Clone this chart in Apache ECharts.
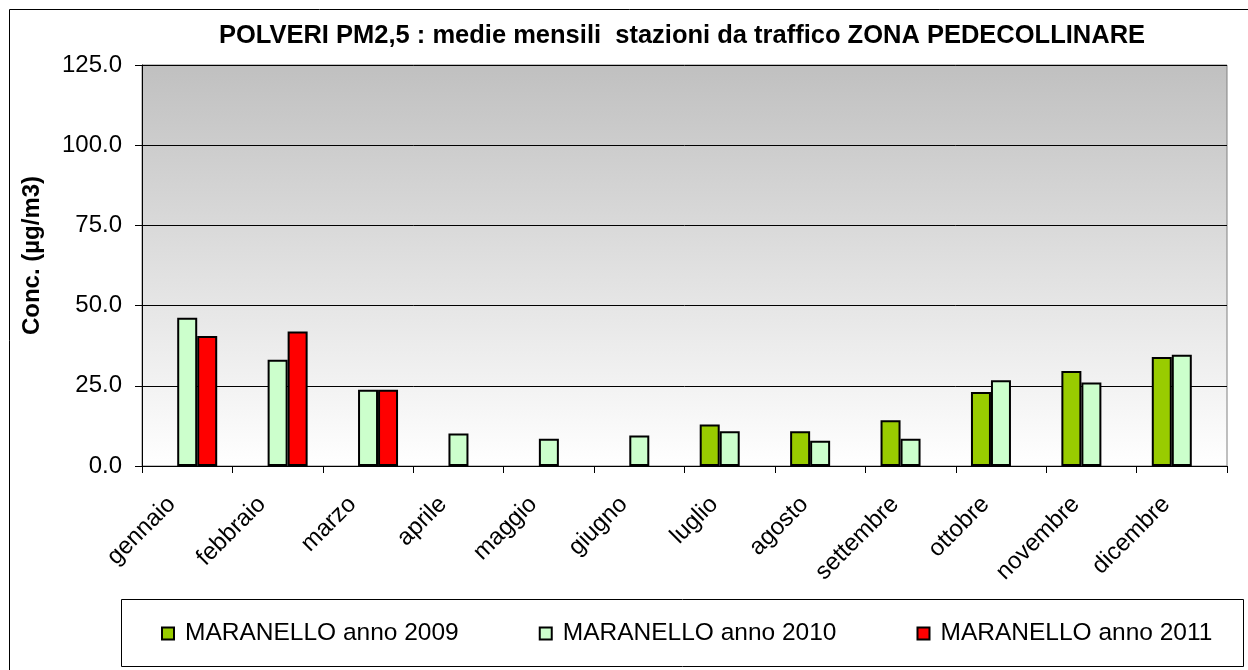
<!DOCTYPE html>
<html>
<head>
<meta charset="utf-8">
<script src="https://cdn.jsdelivr.net/npm/echarts@6/dist/echarts.min.js"></script>
<style>
html,body{margin:0;padding:0;background:#fff;}
#chart{width:1248px;height:670px;}
</style>
</head>
<body>
<div id="chart"></div>
<script>
var categories = ['gennaio','febbraio','marzo','aprile','maggio','giugno','luglio','agosto','settembre','ottobre','novembre','dicembre'];
var seriesNames = ['MARANELLO anno 2009','MARANELLO anno 2010','MARANELLO anno 2011'];
var values2009 = [null, null, null, null, null, null, 12.9, 10.8, 14.3, 23.1, 29.6, 34.0];
var values2010 = [46.2, 33.1, 23.8, 10.1, 8.5, 9.5, 10.8, 7.9, 8.5, 26.7, 26.0, 34.7];
var values2011 = [40.5, 41.9, 23.8, null, null, null, null, null, null, null, null, null];
var yTicks = {min: 0, max: 125, interval: 25};
var titleText = 'POLVERI PM2,5 : medie mensili  stazioni da traffico ZONA PEDECOLLINARE';
var yAxisName = 'Conc. (µg/m3)';

var colors = ['#99CC00', '#CCFFCC', '#FF0000'];
var allValues = [values2009, values2010, values2011];

var chart = echarts.init(document.getElementById('chart'), null, {renderer: 'canvas'});
var series = allValues.map(function (vals, i) {
  return {
    name: seriesNames[i],
    type: 'bar',
    data: vals,
    barWidth: 20,
    barGap: '0%',
    itemStyle: {color: colors[i], borderColor: '#000', borderWidth: 2},
    emphasis: {disabled: true},
    animation: false
  };
});

chart.setOption({
  animation: false,
  title: {
    text: titleText,
    left: 677,
    top: 18,
    textAlign: 'center',
    textStyle: {fontFamily: 'Liberation Sans, Arial', fontWeight: 'bold', fontSize: 25.5, color: '#000'}
  },
  legend: {
    data: seriesNames,
    left: 156,
    top: 616,
    itemWidth: 12,
    itemHeight: 12,
    itemGap: 80,
    icon: 'rect',
    textStyle: {fontFamily: 'Liberation Sans, Arial', fontSize: 24.5, color: '#000', padding: [0,0,0,6]},
    selectedMode: false
  },
  grid: {
    left: 142, right: 21, top: 65, bottom: 204,
    show: true,
    borderColor: '#808080',
    borderWidth: 1,
    backgroundColor: {
      type: 'linear', x: 0, y: 0, x2: 0, y2: 1,
      colorStops: [{offset: 0, color: '#C0C0C0'}, {offset: 1, color: '#FFFFFF'}]
    }
  },
  xAxis: {
    type: 'category',
    data: categories,
    axisLine: {lineStyle: {color: '#000', width: 1}},
    axisTick: {show: true, length: 7, lineStyle: {color: '#000'}},
    axisLabel: {rotate: 45, margin: 19, padding: [0, 22, 0, 0], fontFamily: 'Liberation Sans, Arial', fontSize: 24, color: '#000'}
  },
  yAxis: {
    type: 'value',
    min: yTicks.min, max: yTicks.max, interval: yTicks.interval,
    name: yAxisName,
    nameLocation: 'middle',
    nameGap: 98,
    nameTextStyle: {fontFamily: 'Liberation Sans, Arial', fontWeight: 'bold', fontSize: 24, color: '#000', padding: [0, 0, 0, 20]},
    axisLine: {show: true, lineStyle: {color: '#000', width: 1}},
    axisTick: {show: true, length: 7, inside: false, lineStyle: {color: '#000'}},
    axisLabel: {margin: 20, fontFamily: 'Liberation Sans, Arial', fontSize: 24, color: '#000',
      formatter: function (v) { return v.toFixed(1); }},
    splitLine: {show: true, lineStyle: {color: '#000', width: 1}}
  },
  graphic: [
    {type: 'rect', shape: {x: 9.5, y: 9.5, width: 1260, height: 680}, style: {fill: null, stroke: '#000', lineWidth: 1}, z: 100},
    {type: 'rect', shape: {x: 121.5, y: 599.5, width: 1122, height: 67}, style: {fill: null, stroke: '#000', lineWidth: 1}, z: 100}
  ],
  series: series
});
</script>
</body>
</html>
